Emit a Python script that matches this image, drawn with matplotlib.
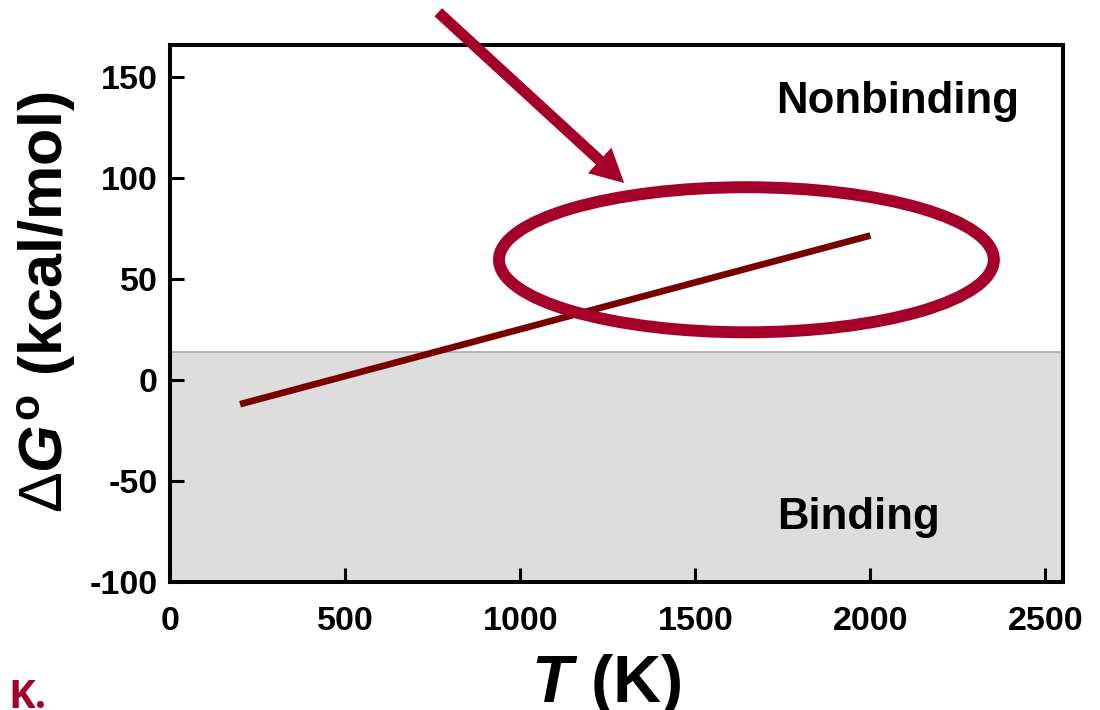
import matplotlib
matplotlib.use("Agg")
import matplotlib.pyplot as plt
from matplotlib.patches import Ellipse, FancyArrowPatch

# Data
temperature_K = [200, 2000]
delta_G = [-12, 71.5]
binding_limit = 14          # ΔG° below this value -> binding
x_ticks = [0, 500, 1000, 1500, 2000, 2500]
y_ticks = [-100, -50, 0, 50, 100, 150]

plt.rcParams["font.family"] = ["Liberation Sans", "DejaVu Sans"]
plt.rcParams["mathtext.fontset"] = "custom"
plt.rcParams["mathtext.rm"] = "Liberation Sans"
plt.rcParams["mathtext.it"] = "Liberation Sans:italic:bold"
plt.rcParams["mathtext.bf"] = "Liberation Sans:bold"

W, H = 1100, 710
fig = plt.figure(figsize=(W / 100, H / 100), dpi=100)
ax = fig.add_axes([170 / W, 1 - 582 / H, 893 / W, 537 / H])

ax.set_xlim(0, 2550)
ax.set_ylim(-100, 165.8)

crimson = "#A5002A"
dark_red = "#7A0000"

# Binding region
ax.axhspan(-100, binding_limit, color="#DCDDDC", lw=0, zorder=0)
ax.axhline(binding_limit, color="#AAAAAA", lw=1.2, zorder=0.5)

# ΔG° vs T
ax.plot(temperature_K, delta_G, color=dark_red, lw=4.8, solid_capstyle="butt", zorder=2)

# Highlight ellipse and pointer
ax.add_patch(Ellipse((1646, 59.5), 1413, 71.8, fill=False, ec=crimson, lw=8.6, zorder=3))
arrow = FancyArrowPatch((766, 182), (1297, 97.5),
                        arrowstyle="simple,head_width=25,head_length=24,tail_width=8",
                        mutation_scale=1, color=crimson, lw=0, shrinkA=0, shrinkB=0,
                        clip_on=False, zorder=4)
ax.add_patch(arrow)

ax.text(1732, 132, "Nonbinding", fontsize=31.5, fontweight="bold", ha="left", va="baseline")
ax.text(1735, -74, "Binding", fontsize=31.5, fontweight="bold", ha="left", va="baseline")

# Axes styling
for s in ax.spines.values():
    s.set_linewidth(2.9)
ax.set_xticks(x_ticks)
ax.set_yticks(y_ticks)
ax.set_xticklabels([str(v) for v in x_ticks])
ax.set_yticklabels([str(v) for v in y_ticks])
ax.tick_params(direction="in", length=10, width=2.2, labelsize=24.5,
               top=False, right=False)
ax.tick_params(axis="y", pad=9)
ax.tick_params(axis="x", pad=17)
for lab in ax.get_xticklabels() + ax.get_yticklabels():
    lab.set_fontweight("bold")

fig.text(606 / W, 1 - 702 / H, r"$\mathit{T}$ (K)", fontsize=48, fontweight="bold",
         ha="center", va="baseline")
fig.text(47 / W, 1 - 302 / H, r"$\Delta\mathit{G}^{\mathbf{o}}$ (kcal/mol)", fontsize=44,
         fontweight="bold", rotation=90, ha="center", va="center")
fig.text(8 / W, 1 - 708 / H, "K.", fontsize=29, fontweight="bold", color=crimson,
         family=["Open Sans", "DejaVu Sans"], ha="left", va="baseline")

fig.savefig("out.png", dpi=100)
